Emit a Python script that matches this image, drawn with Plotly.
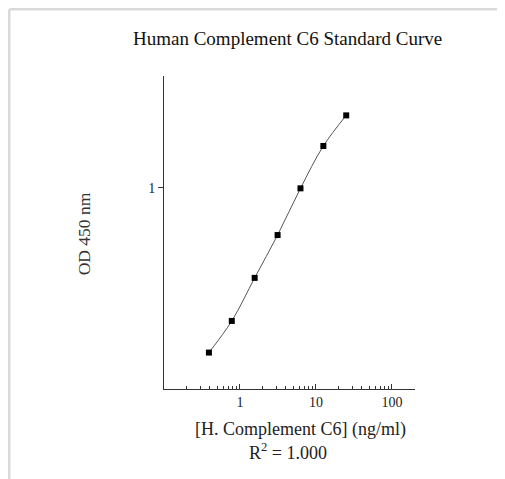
import plotly.graph_objects as go

# Data
conc = [0.39, 0.78, 1.56, 3.125, 6.25, 12.5, 25]
od = [0.164, 0.232, 0.372, 0.595, 0.993, 1.58, 2.21]
x_ticks = [1, 10, 100]
x_tick_text = ["1", "10", "100"]
y_ticks = [1]
y_tick_text = ["1"]

FONT = "Liberation Serif, Times New Roman, serif"

fig = go.Figure()
fig.add_trace(go.Scatter(
    x=conc, y=od, mode="lines+markers",
    line=dict(color="#555555", width=1, shape="spline", smoothing=1.0),
    marker=dict(symbol="square", size=6, color="black"),
    showlegend=False,
))

fig.update_layout(
    width=505, height=479,
    margin=dict(l=156, r=98, t=68, b=98),
    paper_bgcolor="white", plot_bgcolor="white",
    font=dict(family=FONT, color="#222222"),
    xaxis=dict(
        type="log", range=[-1.0, 2.303],
        tickvals=x_ticks, ticktext=x_tick_text,
        ticks="inside", ticklen=5, tickcolor="#333333",
        showline=True, linecolor="#333333", linewidth=1,
        showgrid=False, zeroline=False,
        tickfont=dict(size=14, family=FONT, color="#222222"),
        minor=dict(dtick="D1", ticks="inside", ticklen=3, tickcolor="#333333", showgrid=False),
    ),
    yaxis=dict(
        type="log", range=[-0.9586, 0.5319],
        tickvals=y_ticks, ticktext=y_tick_text,
        ticks="outside", ticklen=5, tickcolor="#333333",
        showline=True, linecolor="#333333", linewidth=1,
        showgrid=False, zeroline=False,
        tickfont=dict(size=14, family=FONT, color="#222222"),
    ),
    annotations=[
        dict(text="Human Complement C6 Standard Curve", xref="paper", yref="paper",
             x=0.494, y=1.121, xanchor="center", yanchor="middle", showarrow=False,
             font=dict(size=19, family=FONT, color="#111111")),
        dict(text="[H. Complement C6] (ng/ml)", xref="paper", yref="paper",
             x=0.542, y=-0.128, xanchor="center", yanchor="middle", showarrow=False,
             font=dict(size=18, family=FONT, color="#222222")),
        dict(text="R<sup>2</sup> = 1.000", xref="paper", yref="paper",
             x=0.494, y=-0.201, xanchor="center", yanchor="middle", showarrow=False,
             font=dict(size=18, family=FONT, color="#222222")),
        dict(text="OD 450 nm", xref="paper", yref="paper", textangle=-90,
             x=-0.315, y=0.497, xanchor="center", yanchor="middle", showarrow=False,
             font=dict(size=17.5, family=FONT, color="#333333")),
    ],
    shapes=[
        dict(type="line", xref="paper", yref="paper", x0=-0.6165, x1=1.39, y0=1.2133, y1=1.2133,
             line=dict(color="#d9d9d9", width=2.5)),
        dict(type="line", xref="paper", yref="paper", x0=-0.6165, x1=-0.6165, y0=1.2133, y1=-0.313,
             line=dict(color="#d9d9d9", width=2.5)),
    ],
)

fig.write_html("out.html")
